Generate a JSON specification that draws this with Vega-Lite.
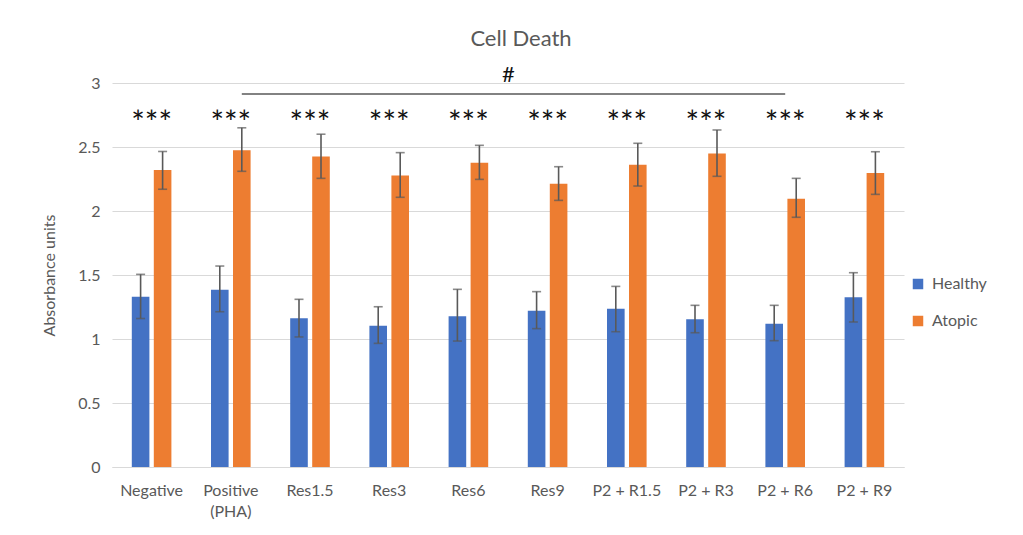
{
  "$schema": "https://vega.github.io/schema/vega-lite/v6.json",
  "width": 792,
  "height": 384,
  "autosize": {"type": "none"},
  "padding": {"left": 112, "top": 83, "right": 119, "bottom": 68},
  "background": "white",
  "title": {"text": "Cell Death", "fontSize": 22, "font": "Lato", "fontWeight": "normal", "color": "#595959", "anchor": "middle", "frame": "group", "offset": 13, "dx": 13},
  "config": {
    "font": "Lato",
    "view": {"stroke": null},
    "axis": {"labelFont": "Lato", "titleFont": "Lato", "labelColor": "#595959", "titleColor": "#595959", "labelFontSize": 16, "titleFontSize": 16, "titleFontWeight": "normal"}
  },
  "datasets": {
    "bars": [
      {"cond": "Negative", "group": "Healthy", "value": 1.33, "lower": 1.16, "upper": 1.505},
      {"cond": "Negative", "group": "Atopic", "value": 2.32, "lower": 2.17, "upper": 2.465},
      {"cond": "Positive (PHA)", "group": "Healthy", "value": 1.385, "lower": 1.213, "upper": 1.57},
      {"cond": "Positive (PHA)", "group": "Atopic", "value": 2.475, "lower": 2.31, "upper": 2.65},
      {"cond": "Res1.5", "group": "Healthy", "value": 1.162, "lower": 1.016, "upper": 1.31},
      {"cond": "Res1.5", "group": "Atopic", "value": 2.425, "lower": 2.255, "upper": 2.6},
      {"cond": "Res3", "group": "Healthy", "value": 1.104, "lower": 0.966, "upper": 1.252},
      {"cond": "Res3", "group": "Atopic", "value": 2.277, "lower": 2.107, "upper": 2.456},
      {"cond": "Res6", "group": "Healthy", "value": 1.177, "lower": 0.984, "upper": 1.388},
      {"cond": "Res6", "group": "Atopic", "value": 2.377, "lower": 2.247, "upper": 2.513},
      {"cond": "Res9", "group": "Healthy", "value": 1.221, "lower": 1.081, "upper": 1.37},
      {"cond": "Res9", "group": "Atopic", "value": 2.213, "lower": 2.083, "upper": 2.346},
      {"cond": "P2 + R1.5", "group": "Healthy", "value": 1.237, "lower": 1.057, "upper": 1.411},
      {"cond": "P2 + R1.5", "group": "Atopic", "value": 2.362, "lower": 2.195, "upper": 2.529},
      {"cond": "P2 + R3", "group": "Healthy", "value": 1.154, "lower": 1.049, "upper": 1.263},
      {"cond": "P2 + R3", "group": "Atopic", "value": 2.45, "lower": 2.271, "upper": 2.633},
      {"cond": "P2 + R6", "group": "Healthy", "value": 1.12, "lower": 0.987, "upper": 1.263},
      {"cond": "P2 + R6", "group": "Atopic", "value": 2.096, "lower": 1.951, "upper": 2.255},
      {"cond": "P2 + R9", "group": "Healthy", "value": 1.326, "lower": 1.133, "upper": 1.518},
      {"cond": "P2 + R9", "group": "Atopic", "value": 2.297, "lower": 2.13, "upper": 2.463}
    ],
    "cats": [
      {"cond": "Negative"}, {"cond": "Positive (PHA)"}, {"cond": "Res1.5"}, {"cond": "Res3"}, {"cond": "Res6"},
      {"cond": "Res9"}, {"cond": "P2 + R1.5"}, {"cond": "P2 + R3"}, {"cond": "P2 + R6"}, {"cond": "P2 + R9"}
    ],
    "sig": [{"start": "Positive (PHA)", "end": "P2 + R6", "mid": "Res6"}]
  },
  "data": {"name": "bars"},
  "encoding": {
    "x": {
      "field": "cond", "type": "nominal", "sort": null,
      "scale": {"paddingInner": 0.5, "paddingOuter": 0.25, "domain": ["Negative", "Positive (PHA)", "Res1.5", "Res3", "Res6", "Res9", "P2 + R1.5", "P2 + R3", "P2 + R6", "P2 + R9"]},
      "axis": {"title": null, "labelAngle": 0, "ticks": false, "domainColor": "#d9d9d9", "domainWidth": 1, "labelPadding": 15,
               "labelExpr": "datum.label == 'Positive (PHA)' ? ['Positive', '(PHA)'] : datum.label", "labelLineHeight": 21}
    }
  },
  "layer": [
    {
      "mark": {"type": "bar"},
      "encoding": {
        "xOffset": {"field": "group", "type": "nominal", "sort": ["Healthy", "Atopic"], "scale": {"paddingInner": 0.2, "domain": ["Healthy", "Atopic"]}},
        "y": {"field": "value", "type": "quantitative", "scale": {"domain": [0, 3]},
              "axis": {"title": "Absorbance units", "values": [0, 0.5, 1, 1.5, 2, 2.5, 3], "format": "~g", "grid": true, "gridColor": "#d9d9d9", "gridWidth": 1, "domain": false, "ticks": false, "labelPadding": 12, "titlePadding": 20}},
        "color": {"field": "group", "type": "nominal", "sort": ["Healthy", "Atopic"],
                  "scale": {"domain": ["Healthy", "Atopic"], "range": ["#4472C4", "#ED7D31"]},
                  "legend": {"title": null, "orient": "none", "legendX": 798, "legendY": 193, "symbolType": "square", "symbolSize": 110, "symbolStrokeWidth": 0, "labelFontSize": 16, "labelColor": "#595959", "labelFont": "Lato", "rowPadding": 21, "labelOffset": 6}}
      }
    },
    {
      "mark": {"type": "rule", "color": "#595959", "strokeWidth": 1.6},
      "encoding": {
        "xOffset": {"field": "group", "type": "nominal", "sort": ["Healthy", "Atopic"]},
        "y": {"field": "lower", "type": "quantitative"}, "y2": {"field": "upper"}}
    },
    {
      "mark": {"type": "tick", "color": "#595959", "thickness": 1.6, "size": 9},
      "encoding": {
        "xOffset": {"field": "group", "type": "nominal", "sort": ["Healthy", "Atopic"]},
        "y": {"field": "upper", "type": "quantitative"}}
    },
    {
      "mark": {"type": "tick", "color": "#595959", "thickness": 1.6, "size": 9},
      "encoding": {
        "xOffset": {"field": "group", "type": "nominal", "sort": ["Healthy", "Atopic"]},
        "y": {"field": "lower", "type": "quantitative"}}
    },
    {
      "data": {"name": "cats"},
      "mark": {"type": "text", "text": "***", "fontSize": 32, "color": "#111111", "font": "Lato", "baseline": "middle"},
      "encoding": {"y": {"datum": 2.68}}
    },
    {
      "data": {"name": "sig"},
      "mark": {"type": "rule", "color": "#595959", "strokeWidth": 1.5, "xOffset": 11},
      "encoding": {"x": {"field": "start", "type": "nominal"}, "x2": {"field": "end"}, "y": {"datum": 2.915}}
    },
    {
      "data": {"name": "sig"},
      "mark": {"type": "text", "text": "#", "fontSize": 22, "color": "#111111", "font": "Lato", "baseline": "middle", "dx": 40},
      "encoding": {"x": {"field": "mid", "type": "nominal"}, "y": {"datum": 3.06}}
    }
  ]
}
